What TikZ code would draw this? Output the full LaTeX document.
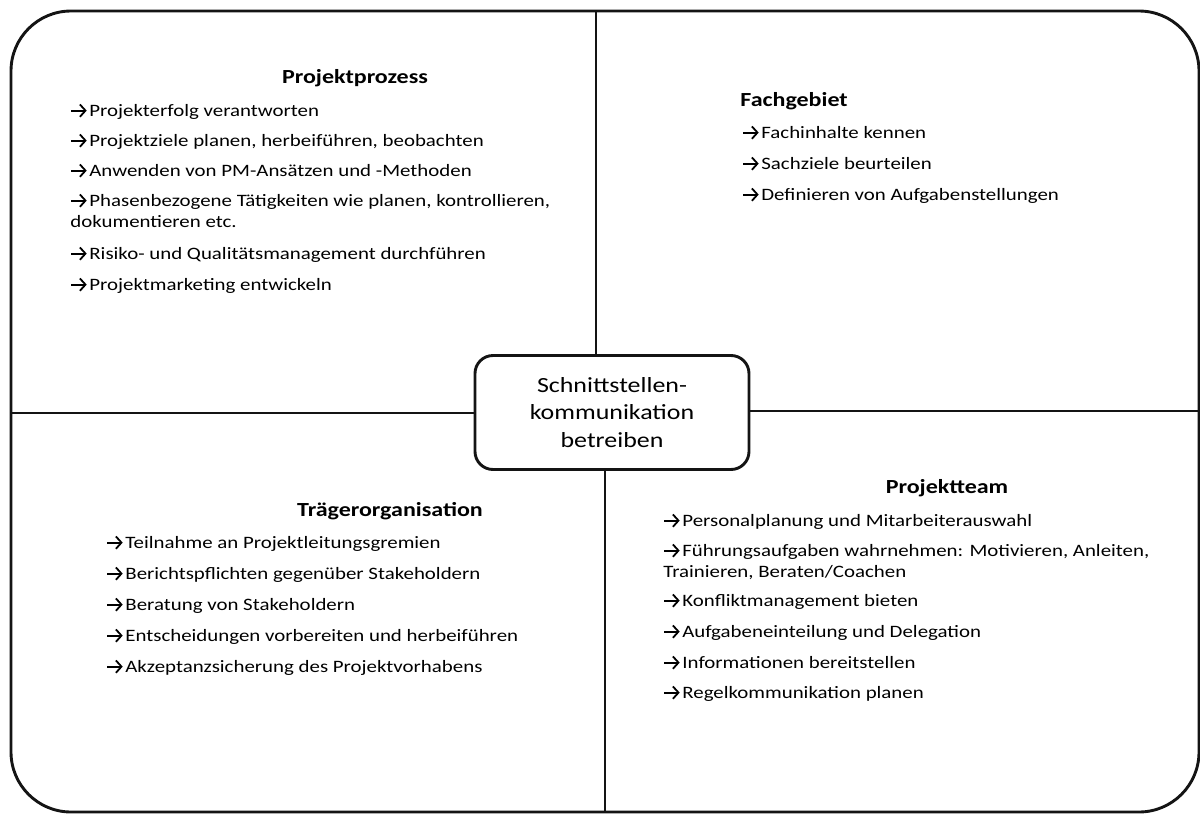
\documentclass[tikz,border=0pt]{standalone}
\usepackage{fontspec}
\usetikzlibrary{arrows.meta}
\setmainfont{Carlito}[FakeStretch=1.2]

% small bullet arrow placed in front of each list entry
\newcommand\ar{\tikz[x=1pt,y=1pt,baseline=0pt]\draw[line width=0.9pt,
  -{Straight Barb[length=2.8pt,width=6.2pt,line width=0.9pt]}] (0.4,2.7) -- (8.1,2.7);\hspace{0.9pt}}

\tikzset{
  rule/.style={line width=1.45pt, draw=black!92},
  frame/.style={rule, rounded corners=30pt, minimum width=594pt, minimum height=400.5pt, inner sep=0pt},
  hub/.style={rule, rounded corners=9pt, fill=white, minimum width=137pt, minimum height=57pt,
    inner sep=0pt, align=center, font=\fontsize{10.8}{13.7}\selectfont},
  item/.style={anchor=base west, inner sep=0pt, font=\fontsize{8.7}{10.5}\selectfont},
  head/.style={anchor=base, inner sep=0pt, font=\fontsize{10}{11}\selectfont\bfseries},
}

\begin{document}
\begin{tikzpicture}[x=0.5pt,y=-0.5pt]
\useasboundingbox (0,0) rectangle (1200,814);

% outer frame and central hub
\node[frame] (box) at (605,411.5) {};
\node[hub] (c) at (612,412.5) {Schnittstellen-\\kommunikation\\betreiben};

% dividing lines between the four fields
\coordinate (up) at (596,11);
\coordinate (down) at (605,812);
\coordinate (left) at (11,413);
\coordinate (right) at (1199,411);
\draw[rule] (up) -- (up |- c.north);
\draw[rule] (c.south -| down) -- (down);
\draw[rule] (left) -- (left -| c.west);
\draw[rule] (c.east |- right) -- (right);

% Projektprozess
\node[head] (pp0) at (355,83) {Projektprozess};
\node[item] (pp1) at (70,116) {\ar Projekterfolg verantworten};
\node[item] (pp2) at (70,146) {\ar Projektziele planen, herbeiführen, beobachten};
\node[item] (pp3) at (70,176) {\ar Anwenden von PM-Ansätzen und -Methoden};
\node[item] (pp4) at (70,206) {\ar Phasenbezogene Tätigkeiten wie planen, kontrollieren,};
\node[item] (pp4b) at (70,227) {dokumentieren etc.};
\node[item] (pp5) at (70,259) {\ar Risiko- und Qualitätsmanagement durchführen};
\node[item] (pp6) at (70,290) {\ar Projektmarketing entwickeln};

% Fachgebiet
\node[head, anchor=base west] (fg0) at (740,106) {Fachgebiet};
\node[item] (fg1) at (742,138) {\ar Fachinhalte kennen};
\node[item] (fg2) at (742,169) {\ar Sachziele beurteilen};
\node[item] (fg3) at (742,200) {\ar Definieren von Aufgabenstellungen};

% Trägerorganisation
\node[head] (to0) at (390,516) {Trägerorganisation};
\node[item] (to1) at (106,548) {\ar Teilnahme an Projektleitungsgremien};
\node[item] (to2) at (106,579) {\ar Berichtspflichten gegenüber Stakeholdern};
\node[item] (to3) at (106,610) {\ar Beratung von Stakeholdern};
\node[item] (to4) at (106,641) {\ar Entscheidungen vorbereiten und herbeiführen};
\node[item] (to5) at (106,672) {\ar Akzeptanzsicherung des Projektvorhabens};

% Projektteam
\node[head] (pt0) at (947,493) {Projektteam};
\node[item] (pt1) at (663,526) {\ar Personalplanung und Mitarbeiterauswahl};
\node[item] (pt2) at (663,556) {\ar Führungsaufgaben wahrnehmen: Motivieren, Anleiten,};
\node[item] (pt2b) at (663,577) {Trainieren, Beraten/Coachen};
\node[item] (pt3) at (663,606) {\ar Konfliktmanagement bieten};
\node[item] (pt4) at (663,637) {\ar Aufgabeneinteilung und Delegation};
\node[item] (pt5) at (663,668) {\ar Informationen bereitstellen};
\node[item] (pt6) at (663,698) {\ar Regelkommunikation planen};
\end{tikzpicture}
\end{document}
